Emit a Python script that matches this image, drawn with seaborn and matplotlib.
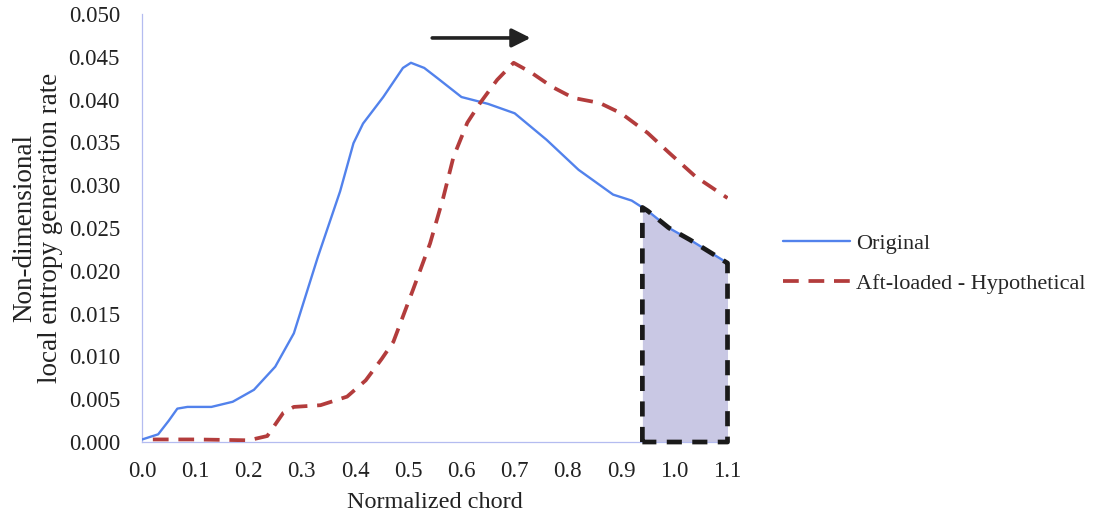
import numpy as np
import pandas as pd
import matplotlib
matplotlib.use("Agg")
import matplotlib.pyplot as plt
import seaborn as sns

# ---- data ----
orig_x = [0.0, 0.03, 0.05, 0.066, 0.085, 0.13, 0.17, 0.21, 0.25, 0.285, 0.33, 0.372,
          0.397, 0.415, 0.453, 0.49, 0.505, 0.53, 0.555, 0.6, 0.65, 0.7, 0.76,
          0.82, 0.885, 0.92, 0.95, 0.99, 1.03, 1.1]
orig_y = [0.0003, 0.0009, 0.0025, 0.0039, 0.0041, 0.0041, 0.0047, 0.0061, 0.0088, 0.0127,
          0.0216, 0.0293, 0.0349, 0.0372, 0.0403, 0.0437, 0.0443, 0.0437, 0.0425,
          0.0403, 0.0395, 0.0384, 0.0353, 0.0318, 0.0289, 0.0282, 0.0270, 0.0250, 0.0236,
          0.0209]

aft_x = [0.02, 0.1, 0.2, 0.235, 0.265, 0.285, 0.335, 0.385, 0.42, 0.45, 0.472, 0.509,
         0.541, 0.566, 0.585, 0.611, 0.635, 0.667, 0.698, 0.73, 0.77,
         0.81, 0.86, 0.9, 0.95, 0.99, 1.04, 1.1]
aft_y = [0.0003, 0.0003, 0.0002, 0.0007, 0.0034, 0.0041, 0.0043, 0.0053, 0.0072, 0.0097,
         0.0117, 0.0178, 0.0232, 0.0286, 0.0333, 0.0373, 0.0396, 0.0423, 0.0443, 0.0432,
         0.0415, 0.0402, 0.0396, 0.0384, 0.0361, 0.0338, 0.0310, 0.0285]

series_labels = ["Original", "Aft-loaded - Hypothetical"]
shade_range = [0.94, 1.1]
x_ticks = [0.0, 0.1, 0.2, 0.3, 0.4, 0.5, 0.6, 0.7, 0.8, 0.9, 1.0, 1.1]
y_ticks = [0.000, 0.005, 0.010, 0.015, 0.020, 0.025, 0.030, 0.035, 0.040, 0.045, 0.050]
arrow_x = [0.545, 0.73]
arrow_y = 0.0472

# ---- style ----
sns.set_style("white")
plt.rcParams["font.family"] = ["Liberation Serif", "DejaVu Serif"]
plt.rcParams["font.size"] = 16.5

BLUE = "#5282ec"
RED = "#b33c3c"
SPINE = "#b4bcf0"
TEXT = "#222222"

fig = plt.figure(figsize=(10.94, 5.18), dpi=100)
ax = fig.add_axes([0.130, 0.1467, 0.535, 0.8263])

df_o = pd.DataFrame({"x": orig_x, "y": orig_y})
df_a = pd.DataFrame({"x": aft_x, "y": aft_y})

# shaded region under original curve
sx = np.linspace(shade_range[0], shade_range[1], 60)
sy = np.interp(sx, orig_x, orig_y)
ax.fill_between(sx, 0, sy, color="#c9c8e4", zorder=1, lw=0)

sns.lineplot(data=df_o, x="x", y="y", ax=ax, color=BLUE, lw=1.7, sort=False,
             label=series_labels[0], zorder=3, legend=False)
sns.lineplot(data=df_a, x="x", y="y", ax=ax, color=RED, lw=2.7, sort=False,
             label=series_labels[1], zorder=3, legend=False)
ax.lines[-1].set_dashes((4.2, 2.6))
for ln in ax.lines:
    ln.set_solid_joinstyle("round")
    ln.set_dash_joinstyle("round")

# dashed black outline of shaded region
px = np.concatenate([[shade_range[0]], sx, [shade_range[1], shade_range[0]]])
py = np.concatenate([[0.0], sy, [0.0, 0.0]])
ax.plot(px, py, color="#1a1a1a", lw=3.4, dashes=(3.2, 2.2), zorder=4,
        solid_capstyle="butt", clip_on=False)

# arrow
ax.annotate("", xy=(arrow_x[1], arrow_y), xytext=(arrow_x[0], arrow_y),
            arrowprops=dict(arrowstyle="-|>", lw=2.6, color="#222222",
                            mutation_scale=28, shrinkA=0, shrinkB=0),
            annotation_clip=False)

ax.set_xlim(0, 1.1)
ax.set_ylim(0, 0.05)
ax.set_xticks(x_ticks)
ax.set_yticks(y_ticks)
ax.set_xticklabels([f"{v:.1f}" for v in x_ticks], color=TEXT)
ax.set_yticklabels([f"{v:.3f}" for v in y_ticks], color=TEXT)
ax.tick_params(axis="both", length=0, labelsize=16.5)
ax.tick_params(axis="x", pad=14)
ax.tick_params(axis="y", pad=16)

for s in ["top", "right"]:
    ax.spines[s].set_visible(False)
for s in ["left", "bottom"]:
    ax.spines[s].set_color(SPINE)
    ax.spines[s].set_linewidth(0.9)

ax.set_xlabel("Normalized chord", fontsize=17.5, color=TEXT, labelpad=7)
ax.set_ylabel("Non-dimensional\nlocal entropy generation rate", fontsize=19.5,
              color=TEXT, labelpad=4, linespacing=1.05)

handles = [ax.lines[0], ax.lines[1]]
fig.legend(handles, series_labels, loc="center left",
           bbox_to_anchor=(0.7157, 0.491), frameon=False, fontsize=16,
           handlelength=3.0, handletextpad=0.3, labelspacing=0.9,
           borderpad=0, borderaxespad=0)

fig.savefig("out.png", dpi=100)
